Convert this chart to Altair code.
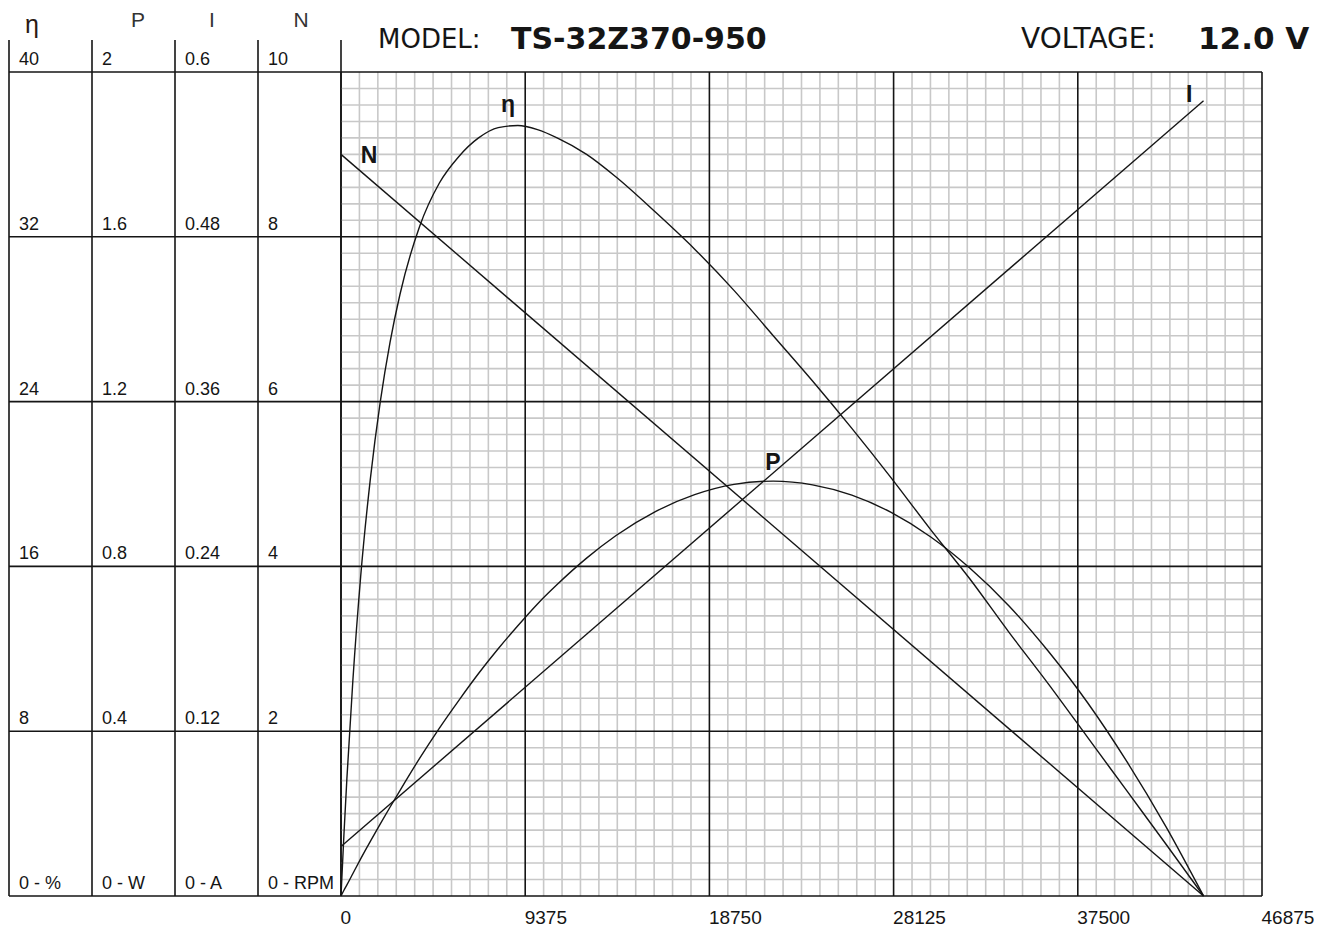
import altair as alt
import pandas as pd

# ---------------- data ----------------
torque = [0, 150, 300, 600, 1000, 1500, 2000, 2500, 3000, 4000, 5000, 6000, 7000,
          8000, 9000, 10000, 11000, 12500, 14000, 16000, 18000, 20000, 22000, 24000,
          26000, 28000, 30000, 32000, 34000, 36000, 38000, 40000, 42000, 43900]
eta = [0, 3.0, 5.7, 10.4, 15.5, 20.3, 24.0, 26.9, 29.2, 32.5, 34.6, 35.9, 36.8,
       37.3, 37.4, 37.2, 36.8, 36.0, 34.9, 33.2, 31.4, 29.4, 27.2, 25.0,
       22.7, 20.3, 17.8, 15.4, 12.8, 10.3, 7.7, 5.1, 2.5, 0]
power = [0, 0.014, 0.027, 0.054, 0.090, 0.133, 0.175, 0.216, 0.256, 0.334, 0.407, 0.475, 0.540,
         0.600, 0.656, 0.709, 0.756, 0.820, 0.875, 0.933, 0.974, 0.999, 1.007, 0.998,
         0.973, 0.931, 0.872, 0.796, 0.704, 0.594, 0.469, 0.326, 0.167, 0]
line_torque = [0, 43900]
speed = [9.0, 0.0]
current = [0.036, 0.579]

x_ticks = [0, 9375, 18750, 28125, 37500, 46875]
eta_levels = [0, 8, 16, 24, 32, 40]
eta_labels = ["0 - %", "8", "16", "24", "32", "40"]
p_labels = ["0 - W", "0.4", "0.8", "1.2", "1.6", "2"]
i_labels = ["0 - A", "0.12", "0.24", "0.36", "0.48", "0.6"]
n_labels = ["0 - RPM", "2", "4", "6", "8", "10"]
headers = ["η", "P", "I", "N"]
curve_names = ["N", "η", "P", "I"]
model_label = "MODEL:"
model_name = "TS-32Z370-950"
voltage_label = "VOLTAGE:"
voltage_value = "12.0 V"

# ---------------- layout / style ----------------
W, H = 921, 824
TW = 332
XMAX = 46875
FONT = "Liberation Sans"
INK = "#151515"
GRID = "#c8c8c8"

xs = alt.Scale(domain=[0, XMAX], nice=False, zero=False)
ys_eta = alt.Scale(domain=[0, 40], nice=False)
X_AX = alt.Axis(values=x_ticks, format="d", labelAlign="left", labelBaseline="top", labelPadding=12,
                labelFont=FONT, labelFontSize=19, labelColor=INK, domain=False,
                ticks=False, grid=False, title=None, labelFlush=False, labelOverlap=False,
                labelOffset=-1)

minor_x = [i * XMAX / 50 for i in range(51) if i % 10]
minor_y = [i * 0.8 for i in range(51) if i % 10]

minor_v = alt.Chart(pd.DataFrame({"x": minor_x})).mark_rule(color=GRID, strokeWidth=1.6).encode(
    x=alt.X("x:Q", scale=xs, axis=X_AX), y=alt.value(0), y2=alt.value(H))
minor_h = alt.Chart(pd.DataFrame({"y": minor_y})).mark_rule(color=GRID, strokeWidth=1.6).encode(
    y=alt.Y("y:Q", scale=ys_eta, axis=None), x=alt.value(0), x2=alt.value(W))
major_v = alt.Chart(pd.DataFrame({"x": x_ticks})).mark_rule(color=INK, strokeWidth=1.6).encode(
    x=alt.X("x:Q", scale=xs, axis=X_AX), y=alt.value(0), y2=alt.value(H))
major_h = alt.Chart(pd.DataFrame({"y": eta_levels})).mark_rule(color=INK, strokeWidth=1.6).encode(
    y=alt.Y("y:Q", scale=ys_eta, axis=None), x=alt.value(0), x2=alt.value(W))

curve_df = pd.DataFrame({"t": torque, "eta": eta, "p": power})
line_df = pd.DataFrame({"t": line_torque, "n": speed, "i": current})

eta_line = alt.Chart(curve_df).mark_line(color=INK, strokeWidth=1.4, interpolate="monotone").encode(
    x=alt.X("t:Q", scale=xs, axis=X_AX), y=alt.Y("eta:Q", scale=alt.Scale(domain=[0, 40], nice=False), axis=None))
p_line = alt.Chart(curve_df).mark_line(color=INK, strokeWidth=1.4, interpolate="monotone").encode(
    x=alt.X("t:Q", scale=xs, axis=X_AX), y=alt.Y("p:Q", scale=alt.Scale(domain=[0, 2], nice=False), axis=None))
n_line = alt.Chart(line_df).mark_line(color=INK, strokeWidth=1.4).encode(
    x=alt.X("t:Q", scale=xs, axis=X_AX), y=alt.Y("n:Q", scale=alt.Scale(domain=[0, 10], nice=False), axis=None))
i_line = alt.Chart(line_df).mark_line(color=INK, strokeWidth=1.4).encode(
    x=alt.X("t:Q", scale=xs, axis=X_AX), y=alt.Y("i:Q", scale=alt.Scale(domain=[0, 0.6], nice=False), axis=None))

# curve name annotations (placed in torque / efficiency units)
ann_df = pd.DataFrame({"name": curve_names,
                       "t": [1425, 8500, 21989, 43163],
                       "v": [35.9, 38.4, 21.0, 38.9]})
ann = alt.Chart(ann_df).mark_text(font=FONT, fontSize=23, fontWeight="bold", color=INK).encode(
    x=alt.X("t:Q", scale=xs, axis=X_AX), y=alt.Y("v:Q", scale=alt.Scale(domain=[0, 40], nice=False), axis=None),
    text="name:N")

def title_text(txt, xpos, size, weight, font):
    return alt.Chart(pd.DataFrame({"s": [txt]})).mark_text(
        align="left", baseline="middle", fontSize=size, fontWeight=weight, font=font, color=INK
    ).encode(x=alt.value(xpos), y=alt.value(-32), text="s:N")

titles = [
    title_text(model_label, 37, 26, "normal", "DejaVu Sans"),
    title_text(model_name, 170, 30, "bold", "DejaVu Sans"),
    title_text(voltage_label, 680, 28, "normal", "DejaVu Sans"),
    title_text(voltage_value, 857, 31, "bold", "DejaVu Sans"),
]

plot = alt.layer(minor_v, minor_h, major_v, major_h,
                 eta_line, p_line, n_line, i_line, ann, *titles).resolve_scale(
    y="independent").properties(width=W, height=H)

# ---------------- left-hand scale table ----------------
ts = alt.Scale(domain=[0, 4], nice=False, zero=False)
cols = [0, 1, 2, 3, 4]
tab_v = alt.Chart(pd.DataFrame({"c": cols})).mark_rule(color=INK, strokeWidth=1.6).encode(
    x=alt.X("c:Q", scale=ts, axis=None), y=alt.value(-32), y2=alt.value(H))
tab_h = alt.Chart(pd.DataFrame({"y": eta_levels})).mark_rule(color=INK, strokeWidth=1.6).encode(
    y=alt.Y("y:Q", scale=ys_eta, axis=None), x=alt.value(0), x2=alt.value(TW))

rows = []
for ci, labs in enumerate([eta_labels, p_labels, i_labels, n_labels]):
    for lev, lab in zip(eta_levels, labs):
        rows.append({"c": ci, "y": lev, "s": lab})
tab_text = alt.Chart(pd.DataFrame(rows)).mark_text(
    align="left", baseline="alphabetic", dx=10, dy=-7, font=FONT, fontSize=18, color=INK).encode(
    x=alt.X("c:Q", scale=ts, axis=None), y=alt.Y("y:Q", scale=ys_eta, axis=None), text="s:N")

head_df = pd.DataFrame({"s": headers, "c": [0.277, 1.554, 2.446, 3.518]})
head_eta = alt.Chart(head_df.iloc[:1]).mark_text(
    font=FONT, fontSize=25, color="#2a1a14", baseline="middle").encode(
    x=alt.X("c:Q", scale=ts, axis=None), y=alt.value(-47), text="s:N")
head_rest = alt.Chart(head_df.iloc[1:]).mark_text(
    font=FONT, fontSize=21, color="#333333", baseline="middle").encode(
    x=alt.X("c:Q", scale=ts, axis=None), y=alt.value(-51), text="s:N")
anchor = alt.Chart(pd.DataFrame({"c": [0]})).mark_rule(opacity=0).encode(
    x=alt.X("c:Q", scale=ts, axis=None), y=alt.value(-64), y2=alt.value(0))

table = alt.layer(anchor, tab_v, tab_h, tab_text, head_eta, head_rest).properties(width=TW, height=H)

chart = alt.hconcat(table, plot, spacing=0, bounds="flush").properties(padding=0).configure_view(stroke=None)

chart.save("out.html", embed_options={"renderer": "svg", "actions": False})
